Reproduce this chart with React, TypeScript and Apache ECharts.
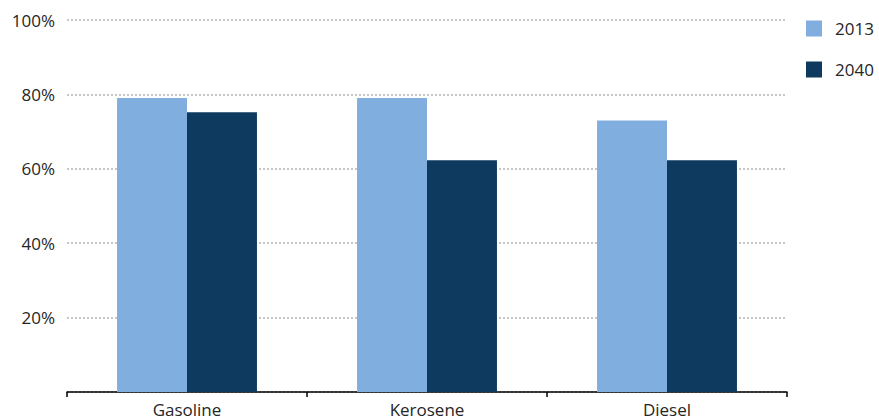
import React, { useEffect, useRef } from "react";
import * as echarts from "echarts";

const categories = ["Gasoline", "Kerosene", "Diesel"];
const seriesNames = ["2013", "2040"];
const values2013 = [79, 79, 73];
const values2040 = [75.2, 62.3, 62.3];
const yTicks = [0, 20, 40, 60, 80, 100];

export default function App() {
  const ref = useRef<HTMLDivElement>(null);
  useEffect(() => {
    if (!ref.current) return;
    const chart = echarts.init(ref.current, undefined, { renderer: "svg" });
    const font = "'Open Sans', 'Liberation Sans', Arial, sans-serif";
    chart.setOption({
      animation: false,
      grid: { left: 67, right: 92, top: 20, bottom: 28, containLabel: false },
      legend: {
        orient: "vertical",
        left: 806,
        top: 20,
        padding: 0,
        itemWidth: 16,
        itemHeight: 16,
        itemGap: 24,
        icon: "rect",
        data: seriesNames,
        textStyle: { fontFamily: font, fontSize: 17, lineHeight: 16, color: "#262626", padding: [0, 0, 0, 8] },
      },
      xAxis: {
        type: "category",
        data: categories,
        axisLine: { show: true, lineStyle: { color: "#000", width: 1.5 } },
        axisTick: { show: true, alignWithLabel: false, length: 5, lineStyle: { color: "#000", width: 1.5 } },
        axisLabel: { fontFamily: font, fontSize: 17, lineHeight: 18, color: "#262626", margin: 8 },
      },
      yAxis: {
        type: "value",
        min: yTicks[0],
        max: yTicks[yTicks.length - 1],
        interval: 20,
        axisLine: { show: false },
        axisTick: { show: false },
        axisLabel: {
          fontFamily: font,
          fontSize: 17,
          color: "#262626",
          margin: 12,
          formatter: (v: number) => (v === 0 ? "" : v + "%"),
        },
        splitLine: { show: true, lineStyle: { color: "#b4b4b4", width: 1.5, type: [2, 2] } },
      },
      series: [
        {
          name: seriesNames[0],
          type: "bar",
          data: values2013,
          barGap: "0%",
          barCategoryGap: "41.7%",
          itemStyle: { color: "#80AEDE" },
        },
        {
          name: seriesNames[1],
          type: "bar",
          data: values2040,
          barGap: "0%",
          barCategoryGap: "41.7%",
          itemStyle: { color: "#0F3A5F" },
        },
      ],
    });
    return () => chart.dispose();
  }, []);
  return <div ref={ref} style={{ width: 879, height: 420, position: "absolute", left: 0, top: 0 }} />;
}
